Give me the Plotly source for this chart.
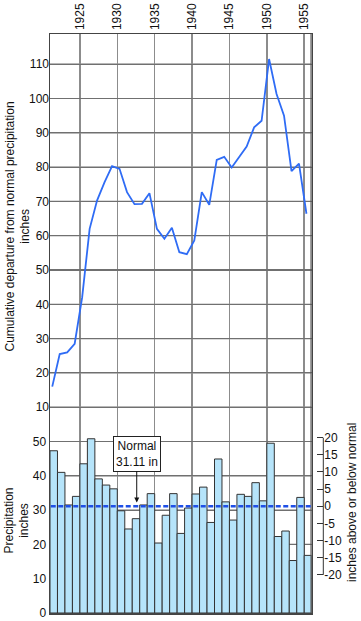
import plotly.graph_objects as go

# ---- data ----
years = list(range(1921, 1956))
precip = [47.3, 41.0, 31.5, 34.0, 43.5, 50.8, 39.1, 37.3, 36.2, 29.8,
          24.5, 27.5, 31.5, 34.8, 20.4, 28.5, 34.8, 23.2, 30.6, 34.7,
          36.7, 26.4, 44.9, 32.4, 27.1, 34.6, 34.0, 38.0, 32.7, 49.5,
          22.3, 23.9, 15.3, 33.7, 16.8]
cum_departure = [16.0, 25.5, 26.0, 28.5, 42.0, 62.0, 70.3, 75.6, 80.3, 79.5,
                 72.7, 69.2, 69.3, 72.4, 62.0, 59.1, 62.3, 55.2, 54.6, 58.6,
                 72.7, 69.0, 82.1, 83.0, 79.9, 83.1, 86.0, 91.6, 93.5, 111.5,
                 101.3, 95.0, 78.8, 81.0, 66.4]
normal = 31.11
year_ticks = [1925, 1930, 1935, 1940, 1945, 1950, 1955]
precip_ticks = [0, 10, 20, 30, 40, 50]
cum_ticks = [10, 20, 30, 40, 50, 60, 70, 80, 90, 100, 110]
dep_ticks = [20, 15, 10, 5, 0, -5, -10, -15, -20]

FONT = "Liberation Sans, Arial, Helvetica, sans-serif"
W, H = 361, 621
ml, mr, mt, mb = 50, 8, 34, 8
plot_w = W - ml - mr
plot_h = H - mt - mb
px_per_unit = 3.43
R = plot_h / px_per_unit           # top of left (precip) axis
xdom = 261.7 / plot_w
right_axis_pos = (323.3 - ml) / plot_w

fig = go.Figure()

fig.add_trace(go.Bar(
    x=[y + 0.5 for y in years], y=precip, width=1.0,
    marker=dict(color="#b6e4fa", line=dict(color="#333333", width=1)),
    xaxis="x", yaxis="y", showlegend=False, hoverinfo="skip"))

fig.add_trace(go.Scatter(
    x=[y + 0.3 for y in years], y=cum_departure, mode="lines",
    line=dict(color="#2f6cf5", width=1.8),
    xaxis="x", yaxis="y2", showlegend=False, hoverinfo="skip"))

grid_vals = list(range(0, 170, 10))
grid_text = [str(v) if v in precip_ticks else "" for v in grid_vals]

fig.update_layout(
    width=W, height=H,
    margin=dict(l=ml, r=mr, t=mt, b=mb, pad=0, autoexpand=False),
    paper_bgcolor="white", plot_bgcolor="white",
    font=dict(family=FONT, size=12, color="#111111"),
    bargap=0,
    xaxis=dict(domain=[0, xdom], range=[1921, 1956], side="top",
               tickvals=year_ticks, tickangle=-90, ticks="",
               showgrid=True, gridcolor="#8c8c8c", gridwidth=1.5,
               showline=True, linecolor="#444444", linewidth=1.5, mirror=True,
               zeroline=False, automargin=False, tickfont=dict(size=12)),
    yaxis=dict(range=[0, R], tickvals=grid_vals, ticktext=grid_text, ticks="",
               showgrid=True, gridcolor="#707070", gridwidth=1.2,
               showline=True, linecolor="#444444", linewidth=1.5, mirror=True,
               zeroline=False, automargin=False, tickfont=dict(size=12)),
    yaxis2=dict(range=[-50, R - 50], overlaying="y", side="left", anchor="x",
                tickvals=cum_ticks, ticks="", showgrid=False, zeroline=False,
                showline=False, automargin=False, tickfont=dict(size=12)),
    yaxis3=dict(range=[-normal, R - normal], overlaying="y", side="right",
                anchor="free", position=right_axis_pos,
                tickvals=dep_ticks, ticktext=[str(v) for v in dep_ticks],
                ticks="inside", ticklen=6, tickcolor="#333333", tickwidth=1,
                showgrid=False, zeroline=False, showline=False,
                automargin=False, tickfont=dict(size=12)),
)

# horizontal grid lines (drawn beneath the data through the left axis scale)
for v in grid_vals[1:]:
    fig.add_shape(type="line", xref="x", yref="y", layer="below",
                  x0=1921, x1=1956, y0=v, y1=v,
                  line=dict(color="#707070", width=1.2))

fig.add_shape(type="line", xref="paper", yref="y3",
              x0=right_axis_pos, x1=right_axis_pos, y0=-20, y1=20,
              line=dict(color="#333333", width=1))
fig.add_shape(type="line", xref="x", yref="paper",
              x0=1956, x1=1956, y0=0, y1=1,
              line=dict(color="#555555", width=2.5))
fig.add_shape(type="line", xref="x", yref="y",
              x0=1921.1, x1=1956, y0=normal, y1=normal,
              line=dict(color="#1f4fe6", width=2.5, dash="5px,2.5px"))

fig.add_annotation(x=1932.6, y=32.2, xref="x", yref="y",
                   text="Normal<br>31.11 in", showarrow=True,
                   ax=0, ay=-49, arrowhead=2, arrowsize=1, arrowwidth=1,
                   arrowcolor="#111111", bordercolor="#222222", borderwidth=1,
                   borderpad=2, bgcolor="white", font=dict(size=12))

fig.add_annotation(xref="paper", yref="paper",
                   x=(17.5 - ml) / plot_w, y=(H - mb - 227) / plot_h,
                   text="Cumulative departure from normal precipitation<br>inches",
                   textangle=-90, showarrow=False, xanchor="center", yanchor="middle",
                   font=dict(size=12))
fig.add_annotation(xref="paper", yref="paper",
                   x=(16.5 - ml) / plot_w, y=(H - mb - 521) / plot_h,
                   text="Precipitation<br>inches",
                   textangle=-90, showarrow=False, xanchor="center", yanchor="middle",
                   font=dict(size=12))
fig.add_annotation(xref="paper", yref="paper",
                   x=(352 - ml) / plot_w, y=(H - mb - 503) / plot_h,
                   text="inches above or below normal",
                   textangle=-90, showarrow=False, xanchor="center", yanchor="middle",
                   font=dict(size=12))

fig.write_html("out.html",
               config={"displayModeBar": False, "staticPlot": True},
               post_script="document.body.style.margin='0';document.body.style.overflow='hidden';")
